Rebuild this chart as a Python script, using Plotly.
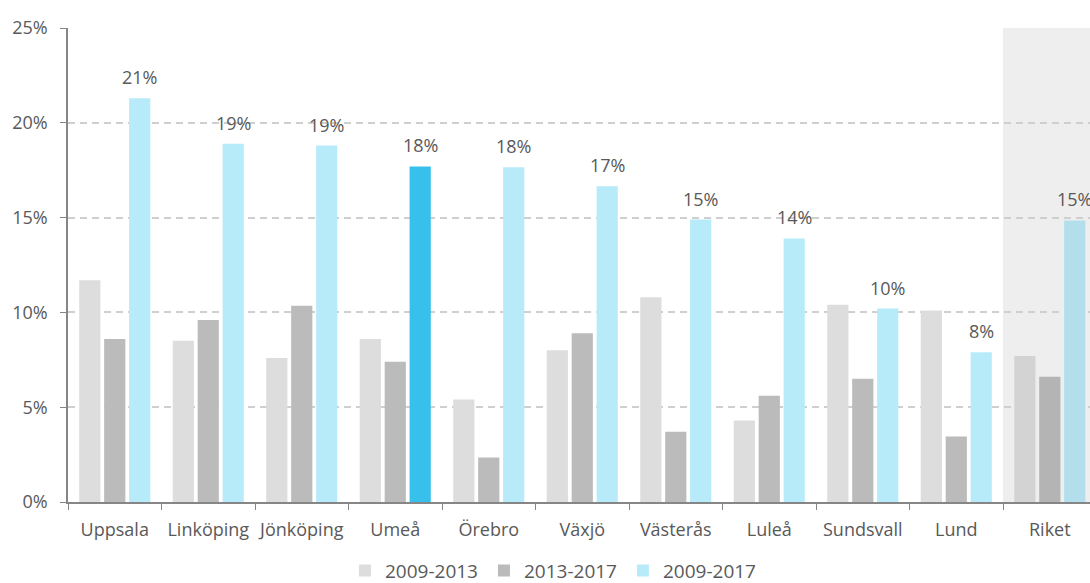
import plotly.graph_objects as go

categories = ["Uppsala", "Linköping", "Jönköping", "Umeå", "Örebro", "Växjö",
              "Västerås", "Luleå", "Sundsvall", "Lund", "Riket"]
series_names = ["2009-2013", "2013-2017", "2009-2017"]
v_2009_2013 = [11.7, 8.5, 7.6, 8.6, 5.4, 8.0, 10.8, 4.3, 10.4, 10.1, 7.7]
v_2013_2017 = [8.6, 9.6, 10.35, 7.4, 2.35, 8.9, 3.7, 5.6, 6.5, 3.45, 6.6]
v_2009_2017 = [21.3, 18.9, 18.8, 17.7, 17.65, 16.65, 14.9, 13.9, 10.2, 7.9, 14.85]
y_ticks = [0, 5, 10, 15, 20, 25]

base_colors = ["#DDDDDD", "#BBBBBB", "#B7EBFA"]
riket_colors = ["#D3D3D3", "#B4B4B4", "#B3DFEC"]
highlight = "#38C0EC"

FONT = "Open Sans"
TXT = "#595959"

fig = go.Figure()
for i, (name, vals) in enumerate(zip(series_names, [v_2009_2013, v_2013_2017, v_2009_2017])):
    cols = []
    for c in categories:
        if c == "Riket":
            cols.append(riket_colors[i])
        elif c == "Umeå" and i == 2:
            cols.append(highlight)
        else:
            cols.append(base_colors[i])
    fig.add_trace(go.Bar(
        x=categories, y=vals, name=name,
        marker=dict(color=cols, line=dict(width=0)),
    ))

annotations = []
for c, v in zip(categories, v_2009_2017):
    annotations.append(dict(
        x=c, y=v, xref="x", yref="y", text=f"{round(v)}%",
        showarrow=False, xshift=25, yshift=21,
        font=dict(family=FONT, size=18, color=TXT),
    ))

fig.update_layout(
    width=1090, height=583,
    margin=dict(l=68, r=0, t=28, b=81),
    paper_bgcolor="white", plot_bgcolor="white",
    barmode="group", bargap=0.2, bargroupgap=0.15,
    font=dict(family=FONT, size=18, color=TXT),
    shapes=[dict(type="rect", xref="x", yref="paper",
                 x0=9.5, x1=11, y0=0, y1=1,
                 fillcolor="#EEEEEE", line=dict(width=0), layer="below")],
    annotations=annotations,
    legend=dict(orientation="h", x=0.475, xanchor="center",
                yref="container", y=0.021, yanchor="middle",
                font=dict(family=FONT, size=19, color=TXT), traceorder="normal",
                entrywidth=94, entrywidthmode="pixels"),
    xaxis=dict(range=[-0.5, 10.43], showline=True, linecolor="#868686", linewidth=1.5,
               ticks="outside", ticklen=6, tickcolor="#868686", tickson="boundaries",
               showgrid=False, tickangle=0, ticklabelstandoff=11, automargin=False),
    yaxis=dict(range=[0, 25], tickvals=y_ticks, ticktext=[f"{t}%" for t in y_ticks],
               showline=True, automargin=False,
               linecolor="#868686", linewidth=1.5, ticks="outside", ticklen=6,
               tickcolor="#868686", showgrid=True, gridcolor="#CFCFCF", gridwidth=1.5,
               griddash="7px,5px", zeroline=False, ticklabelstandoff=9),
)

fig.write_html("out.html", config={"displayModeBar": False},
               post_script="document.body.style.margin='0';document.body.style.overflow='hidden';")
